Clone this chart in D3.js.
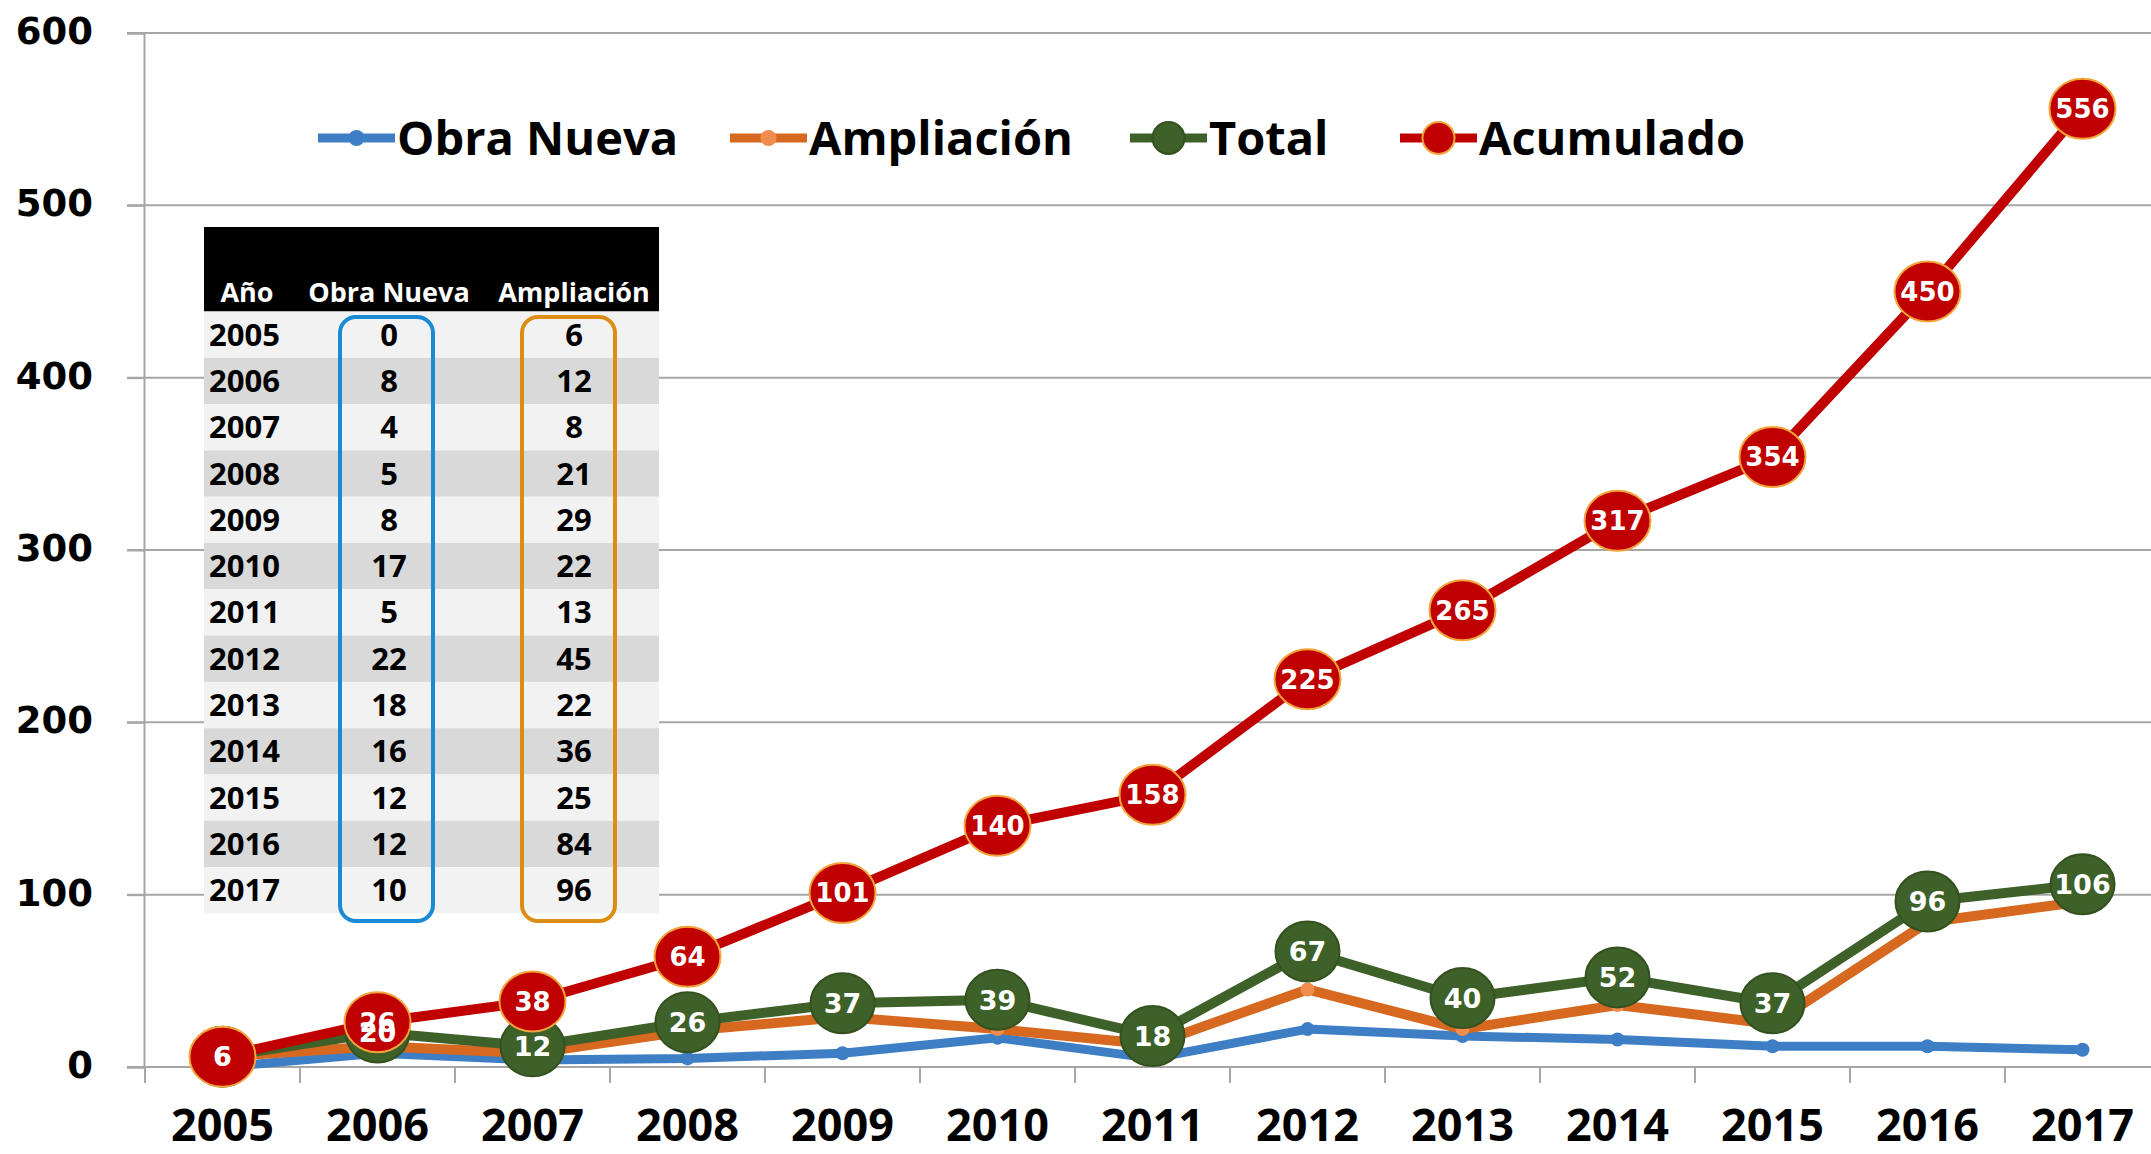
<!DOCTYPE html>
<html>
<head>
<meta charset="utf-8">
<script src="https://cdn.jsdelivr.net/npm/d3@7"></script>
<style>
  html, body { margin: 0; padding: 0; background: #fff; }
  svg { display: block; }
</style>
</head>
<body>
<div id="chart"></div>
<script>
const years = [2005, 2006, 2007, 2008, 2009, 2010, 2011, 2012, 2013, 2014, 2015, 2016, 2017]
const obraNueva = [0, 8, 4, 5, 8, 17, 5, 22, 18, 16, 12, 12, 10]
const ampliacion = [6, 12, 8, 21, 29, 22, 13, 45, 22, 36, 25, 84, 96]
const total = [6, 20, 12, 26, 37, 39, 18, 67, 40, 52, 37, 96, 106]
const acumulado = [6, 26, 38, 64, 101, 140, 158, 225, 265, 317, 354, 450, 556]
const yTicks = [0, 100, 200, 300, 400, 500, 600]
const tableHeaders = ['Año', 'Obra Nueva', 'Ampliación']

const width = 2151
const height = 1154

const series = [
  { name: 'Obra Nueva', values: obraNueva, line: '#3d7ec5', fill: '#3d7ec5', stroke: 'none', rx: 7, ry: 7, lw: 9, labels: false },
  { name: 'Ampliación', values: ampliacion, line: '#d6691f', fill: '#f08c4e', stroke: 'none', rx: 7, ry: 7, lw: 10, labels: false },
  { name: 'Total', values: total, line: '#3e6029', fill: '#3e6029', stroke: '#34511f', rx: 32, ry: 30, lw: 10, labels: true, fs: 27 },
  { name: 'Acumulado', values: acumulado, line: '#c00000', fill: '#c00000', stroke: '#f3a43a', rx: 33, ry: 30, lw: 10, labels: true, fs: 26 }
]

const svg = d3.select('#chart')
  .append('svg')
  .attr('width', width)
  .attr('height', height)
  .style('background-color', '#FFF')

const x = d3.scaleBand()
  .domain(years)
  .range([145, 2160])

const cx = d => x(d) + x.bandwidth() / 2

const y = d3.scaleLinear()
  .domain([0, 600])
  .range([1067, 33])

// gridlines
svg.append('g')
  .selectAll('line')
  .data(yTicks.filter(t => t > 0))
  .join('line')
  .attr('x1', 127)
  .attr('x2', width)
  .attr('y1', d => y(d))
  .attr('y2', d => y(d))
  .attr('stroke', '#a6a6a6')
  .attr('stroke-width', 2)

// y axis
const yAxis = svg.append('g')
  .attr('transform', 'translate(144, 0)')
  .call(d3.axisLeft(y).tickValues(yTicks).tickSize(17).tickPadding(34))
yAxis.select('.domain').attr('stroke', '#a6a6a6').attr('stroke-width', 2)
yAxis.selectAll('.tick line').attr('stroke', '#a6a6a6').attr('stroke-width', 2)
yAxis.selectAll('.tick text')
  .attr('font-family', 'DejaVu Sans')
  .attr('font-weight', 'bold')
  .attr('font-size', 37)
  .attr('fill', '#000')
  .attr('dy', '0.28em')

// x axis
svg.append('line')
  .attr('x1', 127)
  .attr('x2', width)
  .attr('y1', y(0))
  .attr('y2', y(0))
  .attr('stroke', '#a6a6a6')
  .attr('stroke-width', 2)

svg.append('g')
  .selectAll('line')
  .data(years)
  .join('line')
  .attr('x1', d => x(d))
  .attr('x2', d => x(d))
  .attr('y1', y(0))
  .attr('y2', y(0) + 16)
  .attr('stroke', '#a6a6a6')
  .attr('stroke-width', 2)

const xAxis = svg.append('g')
  .attr('transform', `translate(0, ${y(0)})`)
  .call(d3.axisBottom(x).tickSize(0).tickPadding(0))
xAxis.select('.domain').remove()
xAxis.selectAll('.tick text')
  .attr('y', 74)
  .attr('dy', 0)
  .attr('font-family', 'Open Sans')
  .attr('font-weight', 'bold')
  .attr('font-size', 45)
  .attr('fill', '#000')

// table
const table = svg.append('g')
const rowH = 46.3
const tTop = 311.5

table.append('rect')
  .attr('x', 204)
  .attr('y', 227)
  .attr('width', 455)
  .attr('height', tTop - 227)
  .attr('fill', '#000')

const colX = [247, 389, 574]
table.selectAll('text.head')
  .data(tableHeaders)
  .join('text')
  .attr('class', 'head')
  .attr('x', (d, i) => colX[i])
  .attr('y', 302)
  .attr('text-anchor', 'middle')
  .attr('font-family', 'Open Sans')
  .attr('font-weight', 'bold')
  .attr('font-size', 27)
  .attr('fill', '#fff')
  .text(d => d)

table.selectAll('rect.row')
  .data(years)
  .join('rect')
  .attr('class', 'row')
  .attr('x', 204)
  .attr('y', (d, i) => tTop + i * rowH)
  .attr('width', 455)
  .attr('height', rowH)
  .attr('fill', (d, i) => i % 2 ? '#d9d9d9' : '#f2f2f2')

const rowText = (vals, xPos, anchor) => {
  table.append('g')
    .selectAll('text')
    .data(vals)
    .join('text')
    .attr('x', xPos)
    .attr('y', (d, i) => tTop + i * rowH + rowH / 2 + 11)
    .attr('text-anchor', anchor)
    .attr('font-family', 'Open Sans')
    .attr('font-weight', 'bold')
    .attr('font-size', 31)
    .attr('fill', '#000')
    .text(d => d)
}
rowText(years, 209, 'start')
rowText(obraNueva, 389, 'middle')
rowText(ampliacion, 574, 'middle')

table.append('rect')
  .attr('x', 340).attr('y', 317).attr('width', 93).attr('height', 604)
  .attr('rx', 16).attr('fill', 'none').attr('stroke', '#1a89d6').attr('stroke-width', 4)
table.append('rect')
  .attr('x', 522).attr('y', 317).attr('width', 93).attr('height', 604)
  .attr('rx', 16).attr('fill', 'none').attr('stroke', '#dc8e14').attr('stroke-width', 4)

// legend
const legendX = [318, 730, 1130, 1400]
const legend = svg.append('g')
series.forEach((s, i) => {
  const g = legend.append('g').attr('transform', `translate(${legendX[i]}, 138)`)
  g.append('line')
    .attr('x1', 0).attr('x2', 77)
    .attr('stroke', s.line).attr('stroke-width', 9)
  g.append('ellipse')
    .attr('cx', 38.5)
    .attr('rx', s.labels ? 16 : 8)
    .attr('ry', s.labels ? 16 : 8)
    .attr('fill', s.fill)
    .attr('stroke', s.stroke)
    .attr('stroke-width', 2)
  g.append('text')
    .attr('x', 79)
    .attr('dy', '0.36em')
    .attr('font-family', 'Open Sans')
    .attr('font-weight', 'bold')
    .attr('font-size', 47)
    .attr('fill', '#000')
    .text(s.name)
})

// lines and markers
const line = d3.line()
  .x((d, i) => cx(years[i]))
  .y(d => y(d))

series.forEach(s => {
  const g = svg.append('g')
  g.append('path')
    .datum(s.values)
    .attr('fill', 'none')
    .attr('stroke', s.line)
    .attr('stroke-width', s.lw)
    .attr('stroke-linejoin', 'round')
    .attr('d', line)
  g.selectAll('ellipse')
    .data(s.values)
    .join('ellipse')
    .attr('cx', (d, i) => cx(years[i]))
    .attr('cy', d => y(d))
    .attr('rx', s.rx)
    .attr('ry', s.ry)
    .attr('fill', s.fill)
    .attr('stroke', s.stroke)
    .attr('stroke-width', 2)
})

// data labels
series.filter(s => s.labels).forEach(s => {
  svg.append('g')
    .selectAll('text')
    .data(s.values)
    .join('text')
    .attr('x', (d, i) => cx(years[i]))
    .attr('y', d => y(d))
    .attr('dy', '0.36em')
    .attr('text-anchor', 'middle')
    .attr('font-family', 'DejaVu Sans')
    .attr('font-weight', 'bold')
    .attr('font-size', s.fs)
    .attr('fill', '#fff')
    .text(d => d)
})
</script>
</body>
</html>
